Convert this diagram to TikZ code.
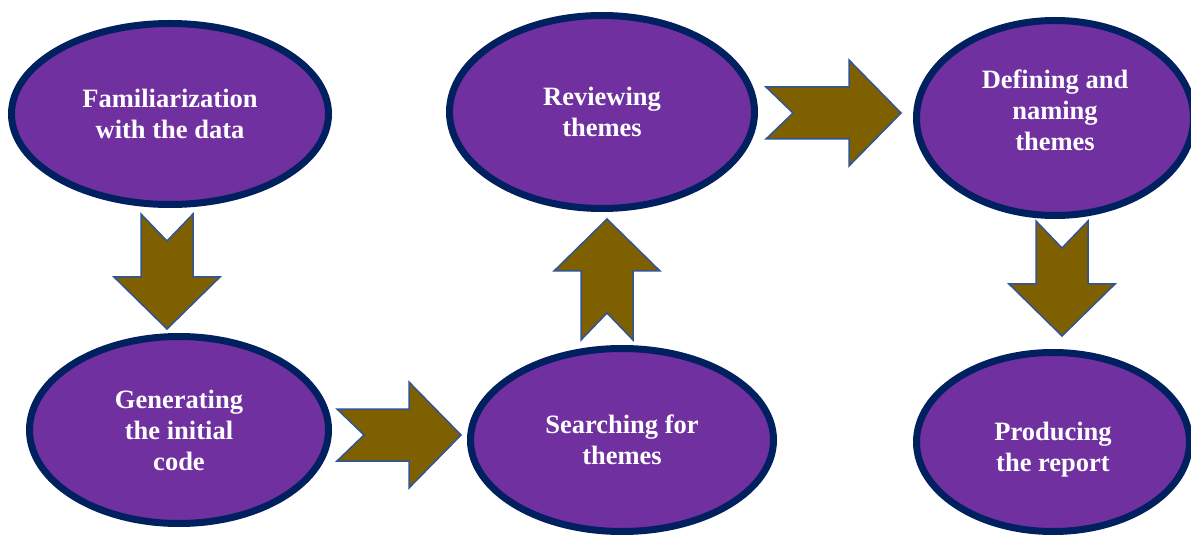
\documentclass[tikz,border=0pt]{standalone}
\usepackage{fontspec}
\setmainfont{Liberation Serif}
\usetikzlibrary{shapes.geometric}
\definecolor{bubblefill}{HTML}{7030A0}
\definecolor{bubbleline}{HTML}{002060}
\definecolor{arrowfill}{HTML}{7F6000}
\definecolor{arrowline}{HTML}{2F5597}
\tikzset{
  bubbletext/.style={text=white, align=center, inner sep=0pt,
    font=\fontsize{26.5}{31}\selectfont\bfseries},
  bubble/.style={ellipse, draw=bubbleline, fill=bubblefill, line width=7pt,
    bubbletext},
  arrowstyle/.style={draw=arrowline, fill=arrowfill, line width=1.5pt, line join=miter},
  pics/blockarrow/.style={code={
    \draw[arrowstyle] (0,-26) -- (#1-52,-26) -- (#1-52,-53) -- (#1,0)
      -- (#1-52,53) -- (#1-52,26) -- (0,26) -- (27,0) -- cycle;}}
}
\begin{document}
\begin{tikzpicture}[x=1pt,y=-1pt]
\useasboundingbox (0,0) rectangle (1191,537);
\fill[white] (0,0) rectangle (1191,537);
% process steps
\node[bubble, minimum width=317pt, minimum height=181pt] (fam) at (170,114)
  {Familiarization\\with the data};
\node[bubble, minimum width=299pt, minimum height=187pt] (gen) at (179,430)
  {Generating\\the initial\\code};
\node[bubble, minimum width=303pt, minimum height=183pt] (sea) at (622,440)
  {Searching for\\themes};
\node[bubble, minimum width=305pt, minimum height=193pt] (rev) at (602,112)
  {Reviewing\\themes};
\node[bubble, minimum width=277pt, minimum height=195pt,
  label={[bubbletext, yshift=8pt]center:{Defining and\\naming\\themes}}] (def) at (1055,118) {};
\node[bubble, minimum width=273pt, minimum height=179pt,
  label={[bubbletext, yshift=-8pt]center:{Producing\\the report}}] (pro) at (1053,442) {};
% arrow tails
\coordinate (a1) at (167,214);
\coordinate (a2) at (337,435);
\coordinate (a3) at (607,340);
\coordinate (a4) at (766,113);
\coordinate (a5) at (1062,221);
\pic[rotate=-90] at (a1) {blockarrow=115};
\pic at (a2) {blockarrow=124};
\pic[rotate=90] at (a3) {blockarrow=121};
\pic at (a4) {blockarrow=135};
\pic[rotate=-90] at (a5) {blockarrow=115};
\end{tikzpicture}
\end{document}
